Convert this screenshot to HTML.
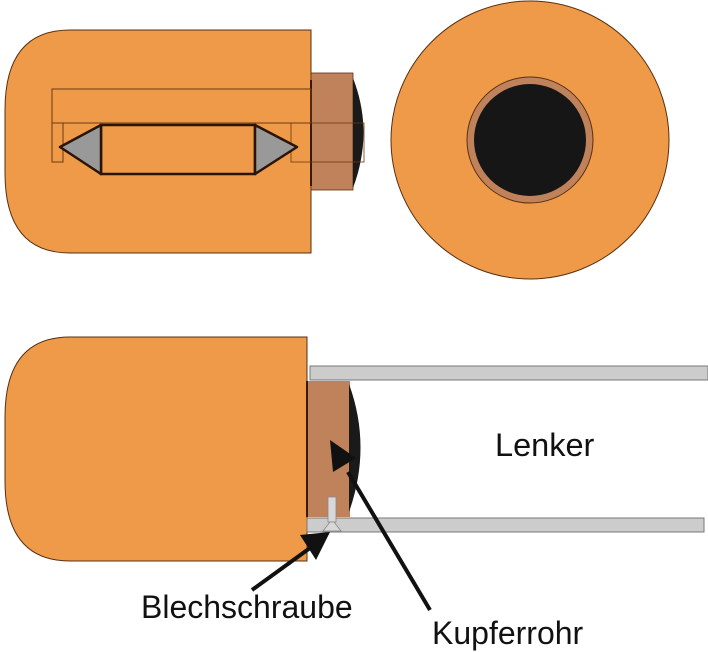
<!DOCTYPE html><html><head><style>body{margin:0;background:#fff}svg{display:block}</style></head><body>
<svg width="708" height="652" viewBox="0 0 708 652" font-family="Liberation Sans, sans-serif">
<rect width="708" height="652" fill="#fff"/>
<!-- top body -->
<path d="M311,30 L70,30 Q5,30 5,110 L5,173 Q5,253 70,253 L311,253 Z" fill="#ee9a48" stroke="#5a3010" stroke-width="1"/>
<rect x="311" y="73" width="42" height="117" fill="#c0825a" stroke="#5a3010" stroke-width="0.8"/>
<path d="M353,78 Q374,132 353,188 Z" fill="#1a1a1a"/>
<line x1="311" y1="80" x2="311" y2="186" stroke="#3a1a05" stroke-width="2"/>
<rect x="52" y="89" width="259" height="34" fill="none" stroke="#6a3a10" stroke-width="1"/>
<rect x="52" y="123" width="11" height="39" fill="none" stroke="#6a3a10" stroke-width="1"/>
<rect x="291" y="123" width="73" height="39" fill="none" stroke="#6a3a10" stroke-width="0.8"/>
<rect x="101" y="125" width="154" height="49" fill="none" stroke="#2a1505" stroke-width="2.5"/>
<path d="M101,125 L60,147 L101,174 Z" fill="#999" stroke="#2a1505" stroke-width="2.5" stroke-linejoin="round"/>
<path d="M255,125 L297,147 L255,174 Z" fill="#999" stroke="#2a1505" stroke-width="2.5" stroke-linejoin="round"/>
<!-- circle -->
<circle cx="530" cy="140" r="139" fill="#ee9a48" stroke="#5a3010" stroke-width="1"/>
<circle cx="530" cy="140" r="63" fill="#c0825a" stroke="#5a3010" stroke-width="1"/>
<circle cx="530" cy="140" r="56" fill="#161616"/>
<!-- bottom body -->
<path d="M307,337 L70,337 Q5,337 5,417 L5,481 Q5,561 70,561 L307,561 Z" fill="#ee9a48" stroke="#5a3010" stroke-width="1"/>
<rect x="310" y="366" width="398" height="14" fill="#ccc" stroke="#777" stroke-width="1"/>
<rect x="307" y="381" width="43" height="136" fill="#c0825a"/>
<line x1="307" y1="381" x2="307" y2="517" stroke="#3a1a05" stroke-width="2"/>
<path d="M349,384 Q372,447 349,512 Z" fill="#1a1a1a"/>
<rect x="307" y="518" width="397" height="14" fill="#ccc" stroke="#777" stroke-width="1"/>
<rect x="328" y="497" width="8" height="25" fill="#d8d8d8" stroke="#888" stroke-width="0.8"/>
<path d="M323,531 L341,531 L334,522 L330,522 Z" fill="#d8d8d8" stroke="#888" stroke-width="0.8"/>
<!-- arrows -->
<line x1="252" y1="590" x2="310" y2="548" stroke="#111" stroke-width="4"/>
<path d="M330,532 L300,535 L316,560 Z" fill="#111"/>
<line x1="430" y1="610" x2="348" y2="472" stroke="#111" stroke-width="4"/>
<path d="M330,440 L333,472 L356,458 Z" fill="#111"/>
<text x="495" y="456" font-size="32.5" fill="#111">Lenker</text>
<text x="141" y="618" font-size="32" fill="#111">Blechschraube</text>
<text x="432" y="644" font-size="32" fill="#111">Kupferrohr</text>
</svg></body></html>
